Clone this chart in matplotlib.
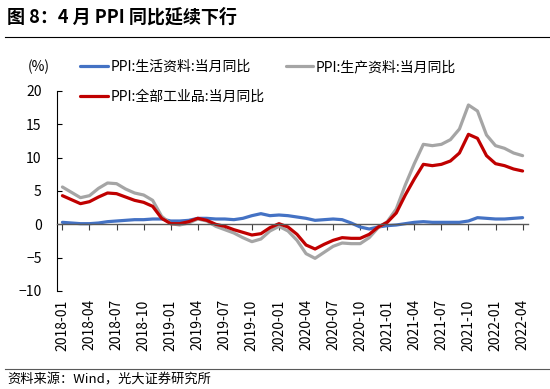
import numpy as np
import pandas as pd
import matplotlib
matplotlib.use('Agg')
import matplotlib.pyplot as plt
from matplotlib.lines import Line2D

plt.rcParams['font.family'] = ['Noto Sans CJK SC', 'DejaVu Sans']

# monthly data 2018-01 .. 2022-04
months = pd.period_range('2018-01', '2022-04', freq='M').strftime('%Y-%m').tolist()

# PPI:生活资料:当月同比
living = [0.3, 0.2, 0.1, 0.1, 0.2, 0.4, 0.5, 0.6, 0.7, 0.7, 0.8, 0.8,
          0.5, 0.5, 0.6, 0.9, 0.9, 0.8, 0.8, 0.7, 0.9, 1.3, 1.6, 1.3,
          1.4, 1.3, 1.1, 0.9, 0.6, 0.7, 0.8, 0.7, 0.2, -0.4, -0.7, -0.4,
          -0.2, -0.1, 0.1, 0.3, 0.4, 0.3, 0.3, 0.3, 0.3, 0.5, 1.0, 0.9,
          0.8, 0.8, 0.9, 1.0]
# PPI:生产资料:当月同比
production = [5.6, 4.8, 4.0, 4.3, 5.4, 6.2, 6.1, 5.3, 4.7, 4.4, 3.6, 1.2,
              0.1, -0.1, 0.2, 0.8, 0.5, -0.3, -0.8, -1.3, -2.0, -2.6, -2.2, -1.0,
              -0.3, -1.0, -2.4, -4.4, -5.1, -4.2, -3.3, -2.8, -2.9, -2.9, -2.0, -0.5,
              0.4, 2.3, 5.9, 9.1, 12.0, 11.8, 12.0, 12.7, 14.3, 17.9, 17.0, 13.4,
              11.8, 11.4, 10.7, 10.3]
# PPI:全部工业品:当月同比
allind = [4.3, 3.7, 3.1, 3.4, 4.1, 4.7, 4.6, 4.1, 3.6, 3.3, 2.7, 0.9,
          0.1, 0.1, 0.4, 0.9, 0.6, 0.0, -0.3, -0.8, -1.2, -1.6, -1.4, -0.5,
          0.1, -0.4, -1.5, -3.1, -3.7, -3.0, -2.4, -2.0, -2.1, -2.1, -1.5, -0.4,
          0.3, 1.7, 4.4, 6.8, 9.0, 8.8, 9.0, 9.5, 10.7, 13.5, 12.9, 10.3,
          9.1, 8.8, 8.3, 8.0]

labels = ['PPI:生活资料:当月同比', 'PPI:生产资料:当月同比', 'PPI:全部工业品:当月同比']
colors = ['#4472C4', '#A5A5A5', '#C00000']

W, H = 550, 389
fig = plt.figure(figsize=(W / 100, H / 100), dpi=100)
ax = fig.add_axes([57 / W, 1 - 291 / H, (528 - 57) / W, 200 / H])

x = np.arange(len(months))
lines = []
for vals, lab, c in zip([living, production, allind], labels, colors):
    ln, = ax.plot(x, vals, color=c, lw=2.3, label=lab,
                  solid_joinstyle='round', solid_capstyle='round')
    lines.append(ln)

ax.set_xlim(-0.6, len(months) - 0.4)
ax.set_ylim(-10, 20)
ax.set_yticks(range(-10, 21, 5))

for s in ['top', 'right']:
    ax.spines[s].set_visible(False)
ax.spines['left'].set_linewidth(0.8)
ax.spines['bottom'].set_position(('data', 0))
ax.spines['bottom'].set_color('#595959')
ax.spines['bottom'].set_linewidth(1.0)

ax.set_xticks(x[::3])
ax.tick_params(axis='x', labelbottom=False, direction='out', length=4, color='#404040')
ax.tick_params(axis='y', direction='in', length=3.5, pad=11, labelsize=10)

# date labels sit at the bottom of the axes
sec = ax.secondary_xaxis('bottom')
sec.set_xticks(x[::3], labels=months[::3], rotation=90)
sec.tick_params(length=0, pad=6, labelsize=10)
sec.spines['bottom'].set_visible(False)

# legend: blue & gray on first row, red on second
leg = fig.legend([lines[0], lines[2], lines[1]], [labels[0], labels[2], labels[1]],
                 ncol=2, loc='upper left', bbox_to_anchor=(80 / W, 1 - 60 / H),
                 frameon=False, fontsize=10, handlelength=2.0, handletextpad=0.2,
                 columnspacing=1.5, labelspacing=1.15, borderpad=0, borderaxespad=0)

fig.text(28 / W, 1 - 67 / H, '(%)', fontsize=10, va='center')

fig.text(7 / W, 1 - 17 / H, '图 8：4 月 PPI 同比延续下行', fontsize=13,
         fontweight='bold', va='center')
fig.add_artist(Line2D([5 / W, 1], [1 - 37 / H] * 2, color='black', lw=0.8))
fig.add_artist(Line2D([5 / W, 1], [1 - 369 / H] * 2, color='#595959', lw=0.8))
fig.text(7 / W, 1 - 380 / H, '资料来源：Wind，光大证券研究所', fontsize=9.5, va='center')

fig.savefig('out.png', dpi=100)
